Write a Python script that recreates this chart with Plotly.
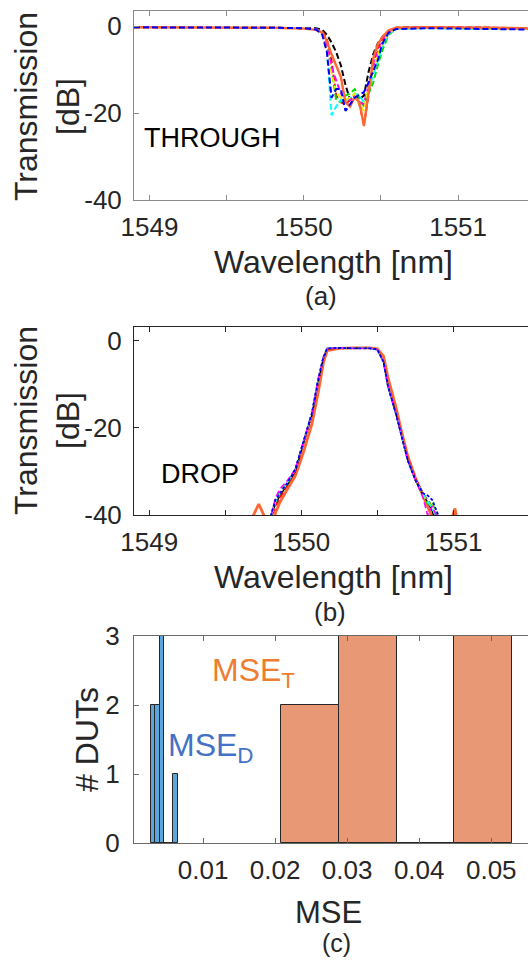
import plotly.graph_objects as go

# ---------------- data ----------------
# (a) THROUGH port
wl_through = [1548.9, 1549.2, 1549.5, 1549.8, 1550.0, 1550.08, 1550.12, 1550.15, 1550.18,
              1550.21, 1550.24, 1550.27, 1550.30, 1550.33, 1550.36, 1550.39, 1550.42,
              1550.45, 1550.48, 1550.51, 1550.55, 1550.6, 1550.8, 1551.0, 1551.2, 1551.45]
thr_black = [-0.3, -0.3, -0.4, -0.4, -0.5, -0.5, -0.9, -2.0, -3.8, -6.0, -9.0, -13.5, -17.0,
             -16.0, -16.8, -16.0, -10.5, -6.5, -4.0, -2.5, -1.2, -0.4, -0.3, -0.4, -0.4, -0.5]
thr_red = [-0.3, -0.3, -0.4, -0.4, -0.5, -0.7, -1.2, -3.0, -8.0, -16.0, -17.5, -18.0, -17.0,
           -16.0, -18.0, -22.5, -16.0, -9.0, -5.0, -3.0, -1.2, -0.4, -0.2, -0.3, -0.4, -0.5]
thr_green = [-0.3, -0.3, -0.4, -0.4, -0.5, -0.8, -1.5, -4.0, -10.0, -17.0, -17.5, -16.0, -15.5,
             -14.5, -16.5, -18.5, -15.5, -13.0, -9.0, -5.5, -2.0, -0.6, -0.4, -0.5, -0.5, -0.6]
thr_cyan = [-0.3, -0.3, -0.4, -0.4, -0.5, -0.8, -1.5, -5.5, -20.5, -18.5, -17.0, -17.5, -16.5,
            -15.5, -16.0, -17.5, -14.5, -11.5, -8.0, -4.5, -1.8, -0.6, -0.5, -0.6, -0.6, -0.7]
thr_magenta = [-0.3, -0.3, -0.4, -0.4, -0.5, -0.8, -1.5, -5.0, -9.5, -12.5, -15.5, -16.5, -17.0,
               -16.0, -17.5, -18.0, -13.5, -9.5, -6.0, -3.5, -1.5, -0.5, -0.4, -0.5, -0.5, -0.6]
thr_yellow = [-0.3, -0.3, -0.4, -0.4, -0.5, -0.9, -1.8, -6.0, -11.0, -15.0, -16.5, -17.0, -16.5,
              -15.5, -18.0, -19.5, -14.0, -10.0, -6.5, -4.0, -1.6, -0.5, -0.4, -0.5, -0.5, -0.6]
thr_blue = [-0.3, -0.3, -0.4, -0.4, -0.5, -0.8, -2.0, -6.0, -16.5, -14.5, -14.5, -19.5, -18.0,
            -16.5, -15.8, -15.2, -13.0, -10.5, -7.8, -4.0, -1.5, -0.7, -0.5, -0.6, -0.7, -0.8]
thr_orange = [-0.3, -0.3, -0.4, -0.4, -0.6, -0.9, -1.5, -3.5, -6.5, -9.0, -11.7, -17.5, -18.5,
              -16.3, -17.5, -23.0, -15.0, -7.5, -4.2, -2.5, -1.0, -0.4, -0.3, -0.4, -0.4, -0.5]

# (b) DROP port
wl_drop = [1549.55, 1549.68, 1549.72, 1549.76, 1549.80, 1549.83, 1549.86, 1549.91, 1549.96,
           1550.01, 1550.07, 1550.11, 1550.145, 1550.17, 1550.25, 1550.35, 1550.45, 1550.50,
           1550.54, 1550.57, 1550.62, 1550.66, 1550.70, 1550.75, 1550.80, 1550.83, 1550.86,
           1550.90, 1550.98, 1551.01, 1551.04, 1551.2]
drp_orange = [-50, -40.5, -37.5, -40.5, -44, -39.5, -37.0, -34.0, -31.0, -26.0, -19.0, -12.0,
              -5.0, -2.2, -1.7, -1.6, -1.6, -1.8, -3.5, -8.5, -15.0, -21.0, -26.5, -31.5, -35.5,
              -38.0, -40.5, -45, -42, -38.5, -45, -50]
drp_black = [-50, -48, -46, -44, -40.5, -37.5, -35.5, -33.0, -30.0, -24.0, -17.0, -9.5, -4.0,
             -1.8, -1.6, -1.7, -1.7, -2.0, -4.8, -10.5, -16.5, -22.0, -27.5, -32.0, -35.5, -37.0,
             -39.0, -44, -48, -50, -50, -50]
drp_red = [-50, -48, -46, -44, -41, -38.0, -36.0, -33.0, -30.0, -24.0, -17.0, -9.5, -4.0, -1.8,
           -1.6, -1.7, -1.7, -2.0, -4.6, -10.0, -16.0, -21.5, -27.0, -31.5, -35.0, -36.5, -38.0,
           -42, -48, -50, -50, -50]
drp_green = [-50, -48, -46, -44, -40.5, -36.5, -34.5, -32.5, -29.5, -23.5, -16.5, -9.0, -3.7,
             -1.7, -1.6, -1.7, -1.7, -2.0, -4.8, -10.5, -16.5, -22.0, -27.5, -32.0, -35.5, -37.5,
             -37.0, -41, -48, -50, -50, -50]
drp_cyan = [-50, -48, -46, -44, -40.5, -37.0, -35.0, -32.5, -29.5, -23.5, -16.5, -9.0, -3.7,
            -1.7, -1.6, -1.7, -1.7, -2.0, -4.8, -10.5, -16.5, -22.0, -27.5, -32.0, -35.0, -36.5,
            -38.5, -41, -48, -50, -50, -50]
drp_magenta = [-50, -48, -46, -44, -40.5, -36.0, -34.0, -32.0, -29.5, -23.5, -16.5, -9.0, -3.7,
               -1.7, -1.6, -1.7, -1.7, -2.0, -4.8, -10.5, -16.5, -22.0, -27.5, -32.0, -36.0,
               -40.0, -38.0, -41, -48, -50, -50, -50]
drp_yellow = [-50, -48, -46, -44, -40.5, -37.0, -35.0, -32.5, -29.5, -23.5, -16.5, -9.0, -3.7,
              -1.7, -1.6, -1.7, -1.7, -2.0, -4.8, -10.5, -16.5, -22.0, -27.5, -32.0, -35.5, -37.0,
              -38.0, -42, -48, -50, -50, -50]
drp_blue = [-50, -48, -46, -44, -40.0, -36.5, -35.0, -32.5, -29.5, -23.5, -16.5, -9.0, -3.7,
            -1.7, -1.6, -1.7, -1.7, -2.0, -4.8, -10.5, -16.5, -22.0, -27.5, -32.0, -35.0, -35.5,
            -36.5, -40.0, -48, -50, -50, -50]

# (c) MSE histograms
mse_d_edges = [0.00272, 0.00335, 0.00398, 0.00461, 0.00524, 0.00587, 0.00650]
mse_d_counts = [2, 2, 3, 0, 0, 1]
mse_t_edges = [0.02083, 0.02885, 0.03685, 0.04486, 0.05292]
mse_t_counts = [2, 3, 0, 3]

wl_ticks = [1549, 1550, 1551]
wl_ticktext = ["1549", "1550", "1551"]
wl_minor = [1549.5, 1550.5, 1551.5]
db_ticks = [0, -20, -40]
db_ticktext = ["0", "-20", "-40"]
mse_ticks = [0.01, 0.02, 0.03, 0.04, 0.05]
mse_ticktext = ["0.01", "0.02", "0.03", "0.04", "0.05"]
cnt_ticks = [0, 1, 2, 3]
cnt_ticktext = ["0", "1", "2", "3"]

# ---------------- figure ----------------
W, H = 528, 960
FONT = "Liberation Sans, Arial, sans-serif"
TXT = "#262626"
ORANGE_LINE = "#FF6633"
DASH = "6px,3px"

fig = go.Figure()

def add_lines(xs, series, xa, ya):
    for ys, col, dash, wdt in series:
        fig.add_trace(go.Scatter(x=xs, y=ys, mode="lines", xaxis=xa, yaxis=ya,
                                 line=dict(color=col, dash=dash, width=wdt),
                                 showlegend=False, hoverinfo="skip"))

add_lines(wl_through, [
    (thr_black, "black", DASH, 2.0),
    (thr_red, "red", DASH, 2.0),
    (thr_green, "#00DD00", DASH, 2.0),
    (thr_cyan, "cyan", DASH, 2.0),
    (thr_magenta, "magenta", DASH, 2.0),
    (thr_yellow, "#F0F000", DASH, 2.0),
    (thr_orange, ORANGE_LINE, "solid", 2.4),
    (thr_blue, "blue", DASH, 2.0),
], "x", "y")

add_lines(wl_drop, [
    (drp_orange, ORANGE_LINE, "solid", 2.8),
    (drp_black, "black", "solid", 1.5),
    (drp_red, "red", DASH, 1.6),
    (drp_green, "#00DD00", DASH, 1.6),
    (drp_yellow, "#F0F000", DASH, 1.6),
    (drp_cyan, "cyan", DASH, 1.6),
    (drp_magenta, "magenta", DASH, 1.6),
    (drp_blue, "blue", "3px,2px", 1.8),
], "x2", "y2")

def add_hist(edges, counts, fill):
    centers = [(edges[i] + edges[i + 1]) / 2 for i in range(len(counts))]
    widths = [edges[i + 1] - edges[i] for i in range(len(counts))]
    fig.add_trace(go.Bar(x=centers, y=counts, width=widths, xaxis="x3", yaxis="y3",
                         marker=dict(color=fill, line=dict(color="#262626", width=1)),
                         showlegend=False, hoverinfo="skip"))

add_hist(mse_t_edges, mse_t_counts, "#E89875")
add_hist(mse_d_edges, mse_d_counts, "#5DA6DB")

def axis_style(col):
    return dict(showline=True, linecolor=col, linewidth=1, ticks="inside",
                ticklen=5, tickcolor=col, showgrid=False, zeroline=False,
                automargin=False,
                tickfont=dict(family=FONT, size=26, color=TXT))

def minor_style(col):
    return dict(tickvals=wl_minor, ticks="inside", ticklen=5, tickcolor=col, showgrid=False)

xdom = [134 / W, 1.0]
def ydom(top, bot):
    return [1 - bot / H, 1 - top / H]

fig.update_layout(
    template="none",
    width=W, height=H, margin=dict(l=0, r=0, t=0, b=0, pad=0),
    paper_bgcolor="white", plot_bgcolor="white", bargap=0, barmode="overlay",
    xaxis=dict(domain=xdom, range=[1548.9, 1551.453], tickvals=wl_ticks, ticktext=wl_ticktext,
               minor=minor_style("#8a8a8a"),
               mirror="ticks", anchor="y", ticklabelstandoff=4, **axis_style("#8a8a8a")),
    yaxis=dict(domain=ydom(11, 200), range=[-40, 3.45], tickvals=db_ticks, ticktext=db_ticktext,
               anchor="x", ticklabelstandoff=6, **axis_style("#8a8a8a")),
    xaxis2=dict(domain=xdom, range=[1548.9, 1551.49], tickvals=wl_ticks, ticktext=wl_ticktext,
                minor=minor_style("#262626"),
                mirror="ticks", anchor="y2", ticklabelstandoff=4, **axis_style("#262626")),
    yaxis2=dict(domain=ydom(327, 515), range=[-40, 3.2], tickvals=db_ticks, ticktext=db_ticktext,
                anchor="x2", ticklabelstandoff=6, **axis_style("#262626")),
    xaxis3=dict(domain=xdom, range=[0.00042, 0.0551], tickvals=mse_ticks, ticktext=mse_ticktext,
                mirror="ticks", anchor="y3", ticklabelstandoff=4, **axis_style("#6a6a6a")),
    yaxis3=dict(domain=ydom(636, 843), range=[0, 3], tickvals=cnt_ticks, ticktext=cnt_ticktext,
                anchor="x3", ticklabelstandoff=8, **axis_style("#6a6a6a")),
)

def ann(text, px, py, size, color=TXT, angle=0, xanchor="center", yanchor="middle"):
    fig.add_annotation(text=text, x=px / W, y=1 - py / H, xref="paper", yref="paper",
                       showarrow=False, textangle=angle, xanchor=xanchor, yanchor=yanchor,
                       font=dict(family=FONT, size=size, color=color))

# axis titles
ann("Transmission<br>[dB]", 47, 107, 32, angle=-90)
ann("Transmission<br>[dB]", 47, 421, 32, angle=-90)
ann("# DUTs", 87, 740, 32, angle=-90)
ann("Wavelength [nm]", 333, 262, 32)
ann("Wavelength [nm]", 333, 577, 32)
ann("MSE", 328, 912, 31)
ann("(a)", 321, 296, 26)
ann("(b)", 330, 612, 26)
ann("(c)", 336, 943, 25)

# in-plot labels
ann("THROUGH", 142, 138, 27, color="black", xanchor="left")
ann("DROP", 159, 474, 27, color="black", xanchor="left")
ann("MSE<sub>T</sub>", 210, 672, 32, color="#ED7D31", xanchor="left")
ann("MSE<sub>D</sub>", 166, 747, 32, color="#4472C4", xanchor="left")

fig.write_html("out.html")
